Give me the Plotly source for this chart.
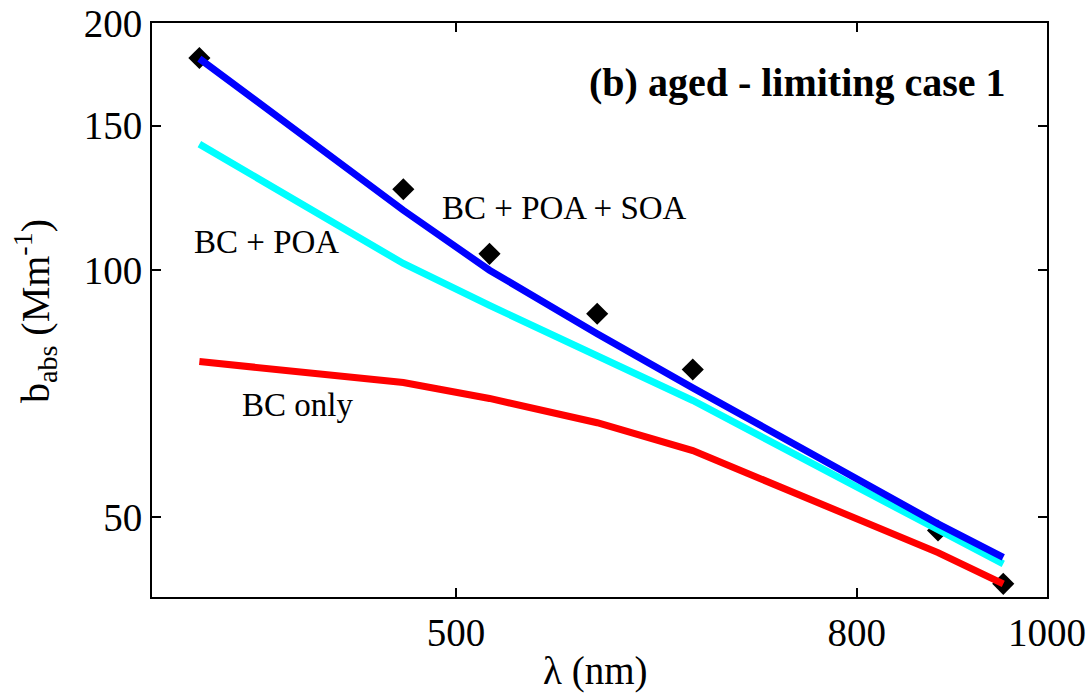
import plotly.graph_objects as go
import numpy as np

wavelength = [370, 470, 520, 590, 660, 880, 950]
measured = [181.3, 125.5, 104.7, 88.5, 75.7, 48.2, 41.5]
bc_poa_soa = [181.0, 118.3, 100.0, 83.7, 71.9, 49.1, 44.7]
bc_poa = [142.4, 101.9, 90.6, 78.7, 69.4, 48.3, 43.9]
bc_only = [77.4, 73.0, 69.8, 65.2, 60.3, 45.3, 41.5]

x_ticks = [500, 800, 1000]
y_ticks = [50, 100, 150, 200]

FONT = "Liberation Serif"

fig = go.Figure()
fig.add_trace(go.Scatter(x=wavelength, y=measured, mode="markers",
                         marker=dict(symbol="diamond", size=17, color="black"),
                         showlegend=False))
fig.add_trace(go.Scatter(x=wavelength, y=bc_only, mode="lines",
                         line=dict(color="#FF0000", width=7), showlegend=False))
fig.add_trace(go.Scatter(x=wavelength, y=bc_poa, mode="lines",
                         line=dict(color="#00FFFF", width=7), showlegend=False))
fig.add_trace(go.Scatter(x=wavelength, y=bc_poa_soa, mode="lines",
                         line=dict(color="#0000FF", width=7), showlegend=False))

fig.update_layout(
    width=1092, height=696,
    margin=dict(l=152, r=45, t=23, b=99),
    paper_bgcolor="white", plot_bgcolor="white",
    font=dict(family=FONT, size=39, color="black"),
    xaxis=dict(type="log", range=[np.log10(350), 3], tickvals=x_ticks,
               ticktext=[str(v) for v in x_ticks], ticks="inside", ticklen=9,
               tickwidth=1.5, tickcolor="black", showline=True, linecolor="black",
               linewidth=2, mirror="ticks", showgrid=False, zeroline=False,
               tickfont=dict(size=39), automargin=False),
    yaxis=dict(type="log", range=[np.log10(40), np.log10(200)], tickvals=y_ticks,
               ticktext=[str(v) for v in y_ticks], ticks="inside", ticklen=9,
               tickwidth=1.5, tickcolor="black", showline=True, linecolor="black",
               linewidth=2, mirror="ticks", showgrid=False, zeroline=False,
               tickfont=dict(size=39), automargin=False),
)

fig.add_annotation(text="λ (nm)", xref="paper", yref="paper", x=(595 - 152) / 895, y=-(695 - 597) / 574,
                   xanchor="center", yanchor="bottom", showarrow=False, font=dict(size=39))
fig.add_annotation(text="b<sub>abs</sub> (Mm<sup>-1</sup>)", xref="paper", yref="paper",
                   x=(35 - 152) / 895, y=1 - (311 - 23) / 574, xanchor="center", yanchor="middle",
                   textangle=-90, showarrow=False, font=dict(size=40))
fig.add_annotation(text="<b>(b) aged - limiting case 1</b>", xref="paper", yref="paper",
                   x=(1008 - 152) / 895, y=1 - (82 - 23) / 574, xanchor="right", yanchor="middle",
                   showarrow=False, font=dict(size=40))
fig.add_annotation(text="BC + POA + SOA", xref="paper", yref="paper",
                   x=(440 - 152) / 895, y=1 - (208 - 23) / 574, xanchor="left", yanchor="middle",
                   showarrow=False, font=dict(size=33))
fig.add_annotation(text="BC + POA", xref="paper", yref="paper",
                   x=(192 - 152) / 895, y=1 - (242 - 23) / 574, xanchor="left", yanchor="middle",
                   showarrow=False, font=dict(size=33))
fig.add_annotation(text="BC only", xref="paper", yref="paper",
                   x=(240 - 152) / 895, y=1 - (405 - 23) / 574, xanchor="left", yanchor="middle",
                   showarrow=False, font=dict(size=33))

fig.write_html("out.html")
